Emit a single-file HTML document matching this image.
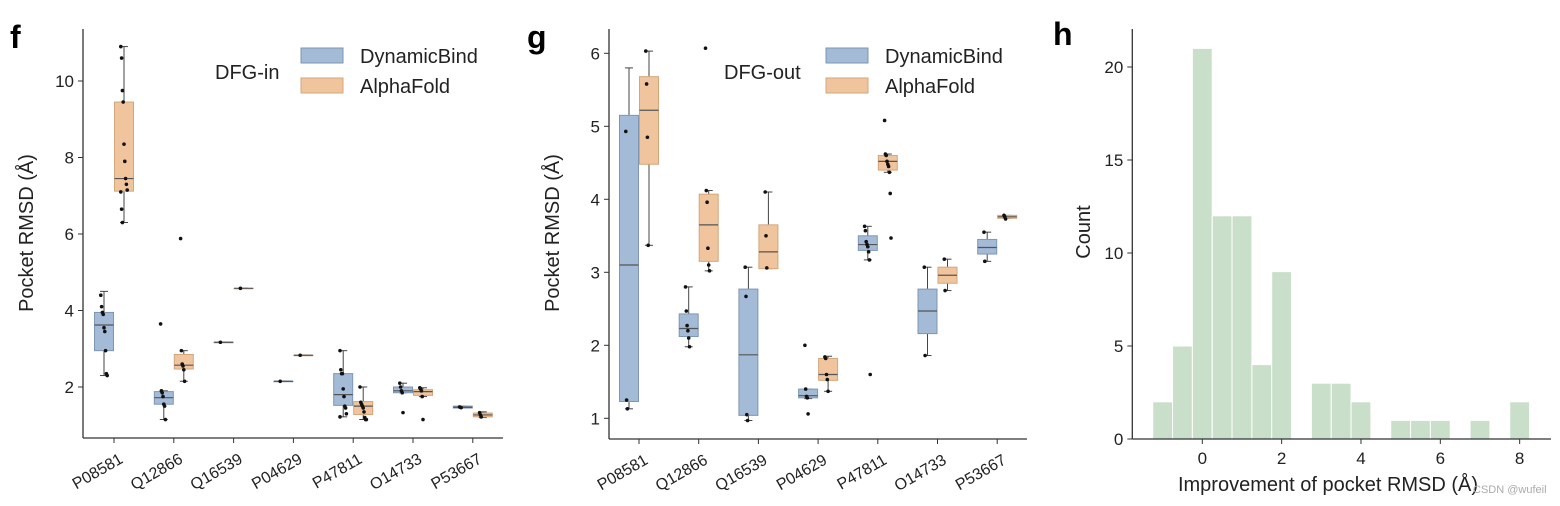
<!DOCTYPE html>
<html><head><meta charset="utf-8">
<style>
html,body{margin:0;padding:0;background:#fff;}
svg{display:block;font-family:"Liberation Sans",Arial,sans-serif;}
</style></head>
<body>
<svg id="fig" width="1560" height="506" viewBox="0 0 1560 506" xmlns="http://www.w3.org/2000/svg"></svg>
<script>
const categories = ["P08581","Q12866","Q16539","P04629","P47811","O14733","P53667"];
// Panel f (DFG-in): [whiskerLo, q1, median, q3, whiskerHi]
const fBlueStats = [[2.3,2.95,3.62,3.95,4.5],[1.15,1.55,1.72,1.88,1.9],[3.17,3.17,3.17,3.17,3.17],[2.15,2.15,2.15,2.15,2.15],[1.22,1.52,1.8,2.35,2.95],[1.85,1.85,1.9,2.0,2.1],[1.45,1.45,1.47,1.5,1.5]];
const fOrangeStats = [[6.3,7.12,7.45,9.45,10.9],[2.15,2.47,2.57,2.85,2.95],[4.58,4.58,4.58,4.58,4.58],[2.83,2.83,2.83,2.83,2.83],[1.15,1.28,1.5,1.62,2.0],[1.75,1.78,1.88,1.93,1.98],[1.2,1.22,1.27,1.32,1.35]];
const fBluePoints = [[4.4,4.1,3.95,3.9,3.55,3.45,2.95,2.35,2.3],[3.65,1.9,1.85,1.75,1.55,1.5,1.15],[3.17],[2.15],[2.95,2.45,2.35,2.35,1.95,1.75,1.5,1.45,1.3,1.22],[2.1,2.0,1.9,1.85,1.33],[1.48,1.47,1.46]];
const fOrangePoints = [[10.9,10.6,9.75,9.45,8.35,7.9,7.45,7.3,7.15,7.1,6.65,6.3],[5.88,2.95,2.6,2.55,2.45,2.15],[4.58],[2.83],[2.0,1.6,1.55,1.5,1.45,1.35,1.2,1.15,1.15],[1.98,1.95,1.9,1.75,1.15],[1.33,1.27,1.22]];
const fTicks = [2,4,6,8,10];
// Panel g (DFG-out)
const gBlueStats = [[1.13,1.23,3.1,5.15,5.8],[1.98,2.12,2.23,2.43,2.8],[0.97,1.04,1.87,2.77,3.07],[1.27,1.28,1.31,1.4,1.4],[3.17,3.3,3.38,3.5,3.63],[1.86,2.16,2.47,2.77,3.07],[3.15,3.25,3.34,3.45,3.55]];
const gOrangeStats = [[3.37,4.48,5.22,5.68,6.03],[3.02,3.15,3.65,4.07,4.12],[3.05,3.05,3.28,3.65,4.1],[1.37,1.52,1.6,1.82,1.85],[4.37,4.4,4.52,4.6,4.62],[2.75,2.85,2.96,3.07,3.18],[3.74,3.74,3.76,3.78,3.78]];
const gBluePoints = [[4.93,1.25,1.13],[2.8,2.47,2.27,2.2,2.1,1.98],[3.07,2.67,1.05,0.97],[2.0,1.4,1.3,1.28,1.06],[3.63,3.57,3.42,3.38,3.35,3.28,3.17,1.6],[3.07,1.86],[3.55,3.15]];
const gOrangePoints = [[6.03,5.58,4.85,3.37],[6.07,4.12,3.96,3.33,3.1,3.02],[4.1,3.5,3.06],[1.84,1.82,1.6,1.53,1.37],[5.08,4.62,4.6,4.52,4.48,4.45,4.37,4.08,3.47],[3.18,2.75],[3.78,3.76,3.73]];
const gTicks = [1,2,3,4,5,6];
// Panel h histogram
const binCenters = [-1,-0.5,0,0.5,1,1.5,2,2.5,3,3.5,4,4.5,5,5.5,6,6.5,7,7.5,8];
const binCounts = [2,5,21,12,12,4,9,0,3,3,2,0,1,1,1,0,1,0,2];
const hYTicks = [0,5,10,15,20];
const hXTicks = [0,2,4,6,8];
const binWidth = 0.5;

const NS="http://www.w3.org/2000/svg";
const svg=document.getElementById('fig');
function mk(tag,attrs,parent,text){const e=document.createElementNS(NS,tag);for(const k in attrs)e.setAttribute(k,attrs[k]);if(text!==undefined)e.textContent=text;(parent||svg).appendChild(e);return e;}
const AX="#333", BLUE="#a3bbd6", BLUEE="#7f96b3", ORG="#f0c59d", ORGE="#d3a67c";

function boxPanel(cfg){
  const g=mk('g',{});
  
  
  const y=v=>cfg.y0-(v-cfg.v0)*cfg.ppu;
  const x=i=>cfg.cx0+i*cfg.step;
  [[cfg.bs,cfg.bp,-10,BLUE,BLUEE,'dynamicbind'],[cfg.os,cfg.op,10,ORG,ORGE,'alphafold']].forEach(([stats,pts,off,fill,edge,nm])=>{
    stats.forEach((s,i)=>{
      const cx=x(i)+off, hw=9.5;
      const bg=mk('g',{},g);
      
      
      mk('line',{x1:cx,x2:cx,y1:y(s[0]),y2:y(s[1]),stroke:'#444','stroke-width':1},bg);
      mk('line',{x1:cx,x2:cx,y1:y(s[3]),y2:y(s[4]),stroke:'#444','stroke-width':1},bg);
      mk('line',{x1:cx-4,x2:cx+4,y1:y(s[0]),y2:y(s[0]),stroke:'#444','stroke-width':1},bg);
      mk('line',{x1:cx-4,x2:cx+4,y1:y(s[4]),y2:y(s[4]),stroke:'#444','stroke-width':1},bg);
      mk('rect',{x:cx-hw,y:y(s[3]),width:hw*2,height:Math.max(0.5,y(s[1])-y(s[3])),fill:fill,stroke:edge,'stroke-width':1},bg);
      mk('line',{x1:cx-hw,x2:cx+hw,y1:y(s[2]),y2:y(s[2]),stroke:'#555','stroke-width':1.2},bg);
      pts[i].forEach((v,j)=>{
        const c=mk('circle',{cx:cx+((j*37)%9-4)*0.8,cy:y(v),r:1.8,fill:'#111'},bg);
        
        
      });
    });
  });
  mk('line',{x1:cfg.ax,x2:cfg.ax,y1:29,y2:cfg.axY,stroke:AX,'stroke-width':1.3},g);
  mk('line',{x1:cfg.ax,x2:cfg.axR,y1:cfg.axY,y2:cfg.axY,stroke:AX,'stroke-width':1.3},g);
  cfg.ticks.forEach(t=>{
    mk('line',{x1:cfg.ax-5,x2:cfg.ax,y1:y(t),y2:y(t),stroke:AX},g);
    const tl=mk('text',{x:cfg.ax-9,y:y(t)+6,'text-anchor':'end','font-size':17,fill:'#222'},g,String(t));
    
    
  });
  categories.forEach((c,i)=>{
    mk('line',{x1:x(i),x2:x(i),y1:cfg.axY,y2:cfg.axY+5,stroke:AX},g);
    const tx=x(i)+10, ty=cfg.axY+24;
    const tl=mk('text',{x:tx,y:ty,'text-anchor':'end','font-size':16,fill:'#222',transform:`rotate(-30 ${tx} ${ty})`},g,c);
    
    
  });
  const yt=mk('text',{x:cfg.ax-50,y:233,'text-anchor':'middle','font-size':20,fill:'#222',transform:`rotate(-90 ${cfg.ax-50} 233)`},g,'Pocket RMSD (Å)');
  
  
  const pl=mk('text',{x:cfg.letterX,y:48,'font-size':32,'font-weight':'bold',fill:'#000'},g,cfg.letter);
  
  
  const lg=mk('g',{},g);
  
  
  mk('text',{x:cfg.legTitleX,y:79,'font-size':20,fill:'#222'},lg,cfg.legTitle);
  mk('rect',{x:cfg.legX,y:48,width:42,height:15,fill:BLUE,stroke:BLUEE},lg);
  mk('rect',{x:cfg.legX,y:78,width:42,height:15,fill:ORG,stroke:ORGE},lg);
  mk('text',{x:cfg.legX+59,y:63,'font-size':20,fill:'#222'},lg,'DynamicBind');
  mk('text',{x:cfg.legX+59,y:93,'font-size':20,fill:'#222'},lg,'AlphaFold');
}

boxPanel({name:'panel-f-dfg-in',bs:fBlueStats,os:fOrangeStats,bp:fBluePoints,op:fOrangePoints,ticks:fTicks,
  y0:387,v0:2,ppu:38.25,cx0:114,step:59.8,ax:83,axY:438,axR:503,letter:'f',letterX:10,legTitle:'DFG-in',legTitleX:215,legX:301});
boxPanel({name:'panel-g-dfg-out',bs:gBlueStats,os:gOrangeStats,bp:gBluePoints,op:gOrangePoints,ticks:gTicks,
  y0:418.3,v0:1,ppu:73,cx0:639,step:59.7,ax:609,axY:439,axR:1027,letter:'g',letterX:527,legTitle:'DFG-out',legTitleX:724,legX:826});

(function(){
  const g=mk('g',{});
  
  
  const ax=1132.3, axY=439;
  const xs=v=>1202.3+v*39.67;
  const ys=v=>axY-v*18.6;
  binCounts.forEach((c,i)=>{
    if(c<=0)return;
    const r=mk('rect',{x:xs(binCenters[i]-binWidth/2),y:ys(c),width:xs(binWidth)-xs(0),height:axY-ys(c),fill:'#c9dfca',stroke:'#fff','stroke-width':1},g);
    
    
  });
  mk('line',{x1:ax,x2:ax,y1:29,y2:axY,stroke:AX,'stroke-width':1.3},g);
  mk('line',{x1:ax,x2:1551,y1:axY,y2:axY,stroke:AX,'stroke-width':1.3},g);
  hYTicks.forEach(t=>{
    mk('line',{x1:ax-5,x2:ax,y1:ys(t),y2:ys(t),stroke:AX},g);
    const tl=mk('text',{x:ax-9,y:ys(t)+6,'text-anchor':'end','font-size':17,fill:'#222'},g,String(t));
    
    
  });
  hXTicks.forEach(t=>{
    mk('line',{x1:xs(t),x2:xs(t),y1:axY,y2:axY+5,stroke:AX},g);
    const tl=mk('text',{x:xs(t),y:axY+25,'text-anchor':'middle','font-size':17,fill:'#222'},g,String(t));
    
    
  });
  const xt=mk('text',{x:1328,y:491,'text-anchor':'middle','font-size':20,fill:'#222'},g,'Improvement of pocket RMSD (Å)');
  
  
  const yt=mk('text',{x:1090,y:232,'text-anchor':'middle','font-size':20,fill:'#222',transform:'rotate(-90 1090 232)'},g,'Count');
  
  
  const pl=mk('text',{x:1053,y:45,'font-size':32,'font-weight':'bold',fill:'#000'},g,'h');
  
  
  const wm=mk('text',{x:1473,y:493,'font-size':11,fill:'#aaa'},g,'CSDN @wufeil');
  
  
})();
</script>
</body></html>
